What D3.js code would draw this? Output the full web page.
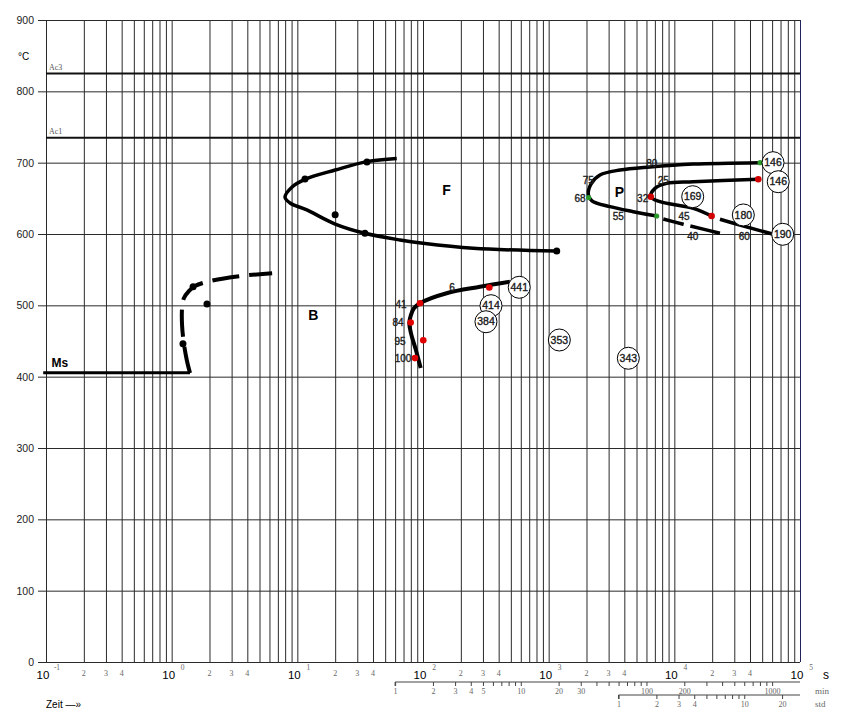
<!DOCTYPE html>
<html>
<head>
<meta charset="utf-8">
<script src="https://cdn.jsdelivr.net/npm/d3@7"></script>
<style>
body { margin: 0; background: #fff; }
svg { display: block; font-family: Arial, "Liberation Sans", sans-serif; }
.grid line { stroke: #2a2a2a; stroke-width: 1; }
.grid path { display: none; }
.sub text { font-family: "Liberation Serif", "DejaVu Serif", serif; font-size: 8px; fill: #666; }
.sub path, .sub line { stroke: #444; }
.lbl { stroke: #222; stroke-width: 0.35px; }
</style>
</head>
<body>
<svg id="chart" width="843" height="724"></svg>
<script>
// ---- data (time in s, temperature in °C) ----
var tempTicks = [0, 100, 200, 300, 400, 500, 600, 700, 800, 900];
var decades = [-1, 0, 1, 2, 3, 4, 5];
var minorLabels = [2, 3, 4];
var criticalTemps = [["Ac3", 825], ["Ac1", 735]];
var minuteTicks = [1,2,3,4,5,6,7,8,9,10,20,30,40,50,60,70,80,90,100,200,300,400,500,600,700,800,900,1000];
var minuteLabels = [1, 2, 3, 4, 5, 10, 20, 30, 100, 200, 1000];
var hourTicks = [1,2,3,4,5,6,7,8,9,10,20];
var hourLabels = [1, 2, 3, 4, 10, 20];

var msLine = [[0.095, 405.5], [1.40, 405.5]];
var bainiteStart = [[1.40,405],[1.32,423],[1.25,447],[1.21,472],[1.21,496],[1.25,510],[1.37,520],[1.53,527],[2.02,534],[3.5,541],[6.3,545]];
var bainiteStartDots = [[1.23,446],[1.48,526],[1.91,502]];

var ferrite = [[61.8,706],[35.8,701.5],[20,689.7],[11.5,676.7],[9.08,666],[7.98,651.5],[8.75,643.5],[11.9,633.7],[20,614],[34.5,601],[65.6,591.6],[100,587],[251,580],[1159,576]];
var ferriteDots = [[11.5,677],[35.8,701],[20,627],[34.5,601],[1159,576]];

var bainite = [[95.9,412],[87.9,437],[80.2,461],[77.8,475],[80.2,486.5],[84.7,496],[94.6,503],[154,517],[284,526],[492,533]];
var bainiteRedDots = [[94.6,503],[79.8,476],[100.5,451],[86.3,426],[337,525]];

var pearliteOuter = [[48100,700],[14150,698],[6400,694],[3700,689.7],[2560,682.7],[2170,670],[2070,654.7],[2210,646.5],[3080,638.3],[4710,631.3],[7240,625.2]];
var pearliteOuterDash = [[8170,621],[11780,613.6],[13340,611.3],[23070,601]];
var pearliteInner = [[46560,676.7],[14160,673.3],[8690,671],[7020,664],[6490,652.3],[7690,645.3],[14160,636],[19800,625.2]];
var pearliteInnerTail = [[23070,620.6],[33270,612.6],[61200,599.6]];
var greenDots = [[48100,700],[2080,651],[7240,625.2]];
var pearliteRedDots = [[46560,676.7],[6490,652.3],[19800,625.2]];

var hardness = [
  [583, 525.3, "441"], [347.6, 499.5, "414"], [317, 477, "384"], [1216, 451.4, "353"], [4305, 425.8, "343"],
  [61000, 700, "146"], [67100, 673.3, "146"], [14000, 652.3, "169"], [35400, 626.7, "180"], [72800, 599.6, "190"]
];
var pointLabels = [
  [66.8, 500.5, "41"], [63.2, 476.6, "84"], [65.6, 450, "95"], [69.3, 424.8, "100"], [170, 525.7, "6"],
  [6607, 699, "80"], [2065, 674.7, "75"], [1774, 650, "68"], [8166, 674.7, "25"], [5598, 650, "32"],
  [3581, 625.2, "55"], [11940, 625.2, "45"], [14000, 597, "40"], [36060, 597, "60"]
];
var regionLabels = [[154, 661.7, "F"], [13.4, 486.5, "B"], [3650, 659.3, "P"], [0.129, 420, "Ms"]];

// ---- layout ----
var plotLeft = 46, plotRight = 800, plotTop = 20, plotBottom = 662;
var svg = d3.select("#chart");

var x = d3.scaleLog().domain([0.1, 1e5]).range([plotLeft, plotRight]);
var y = d3.scaleLinear().domain([0, 900]).range([plotBottom, plotTop]);

// vertical grid: every 1..9 x 10^k
var vTicks = [];
decades.slice(0, -1).forEach(function(d) {
  for (var m = 1; m < 10; m++) vTicks.push(m * Math.pow(10, d));
});
vTicks.push(1e5);

var xGrid = svg.append("g")
  .attr("class", "grid")
  .attr("transform", "translate(0," + plotTop + ")")
  .call(d3.axisBottom(x).tickValues(vTicks).tickSize(plotBottom - plotTop).tickFormat(""));
xGrid.selectAll(".tick line").filter(function(d) { return d === 1e5; }).style("stroke", "#22225a");

// horizontal grid + temperature labels
var yAxis = svg.append("g")
  .attr("class", "grid")
  .attr("transform", "translate(" + plotRight + ",0)")
  .call(d3.axisLeft(y).tickValues(tempTicks).tickSize(plotRight - 38).tickPadding(4));
yAxis.selectAll("text").style("font-size", "10.5px").style("fill", "#222");

svg.append("text").attr("x", 18).attr("y", 60).style("font-size", "10px").text("°C");

// Ac lines
criticalTemps.forEach(function(c) {
  svg.append("line")
    .attr("x1", plotLeft).attr("x2", plotRight)
    .attr("y1", y(c[1])).attr("y2", y(c[1]))
    .attr("stroke", "#111").attr("stroke-width", 2);
  svg.append("text")
    .attr("x", plotLeft + 3).attr("y", y(c[1]) - 4)
    .style("font-family", "Liberation Serif, serif").style("font-size", "8px").style("fill", "#555")
    .text(c[0]);
});

// decade labels 10^k
decades.forEach(function(d) {
  var px = x(Math.pow(10, d));
  svg.append("text").attr("x", px - 3).attr("y", 679)
    .attr("text-anchor", "middle").style("font-size", "11.5px").text("10");
  svg.append("text").attr("x", px + 11).attr("y", 670)
    .attr("text-anchor", "middle")
    .style("font-family", "Liberation Serif, serif").style("font-size", "7.5px").style("fill", "#666")
    .text(d);
  if (d < 5) {
    minorLabels.forEach(function(m) {
      svg.append("text").attr("x", x(m * Math.pow(10, d))).attr("y", 676)
        .attr("text-anchor", "middle")
        .style("font-family", "Liberation Serif, serif").style("font-size", "8px").style("fill", "#666")
        .text(m);
    });
  }
});
svg.append("text").attr("x", 823).attr("y", 679).style("font-size", "12px").text("s");

// minutes axis
var xm = d3.scaleLog().domain([1, 1e5 / 60]).range([x(60), x(1e5)]);
var minAxis = svg.append("g").attr("class", "sub")
  .attr("transform", "translate(0,682)")
  .call(d3.axisBottom(xm).tickValues(minuteTicks).tickSize(4).tickPadding(2)
    .tickFormat(function(v) { return minuteLabels.indexOf(v) >= 0 ? v : ""; }));
minAxis.select(".domain").attr("d", "M" + xm.range()[0] + ",4V0H" + xm.range()[1]);
svg.append("text").attr("x", 815).attr("y", 694)
  .style("font-family", "Liberation Serif, serif").style("font-size", "9px").style("fill", "#666").text("min");

// hours axis
var xh = d3.scaleLog().domain([1, 1e5 / 3600]).range([x(3600), x(1e5)]);
var hAxis = svg.append("g").attr("class", "sub")
  .attr("transform", "translate(0,695)")
  .call(d3.axisBottom(xh).tickValues(hourTicks).tickSize(4).tickPadding(2)
    .tickFormat(function(v) { return hourLabels.indexOf(v) >= 0 ? v : ""; }));
hAxis.select(".domain").attr("d", "M" + xh.range()[0] + ",4V0H" + xh.range()[1]);
svg.append("text").attr("x", 815).attr("y", 707)
  .style("font-family", "Liberation Serif, serif").style("font-size", "9px").style("fill", "#666").text("std");

svg.append("text").attr("x", 46).attr("y", 708).style("font-size", "10px").text("Zeit  —»");

// ---- curves ----
var line = d3.line()
  .x(function(d) { return x(d[0]); })
  .y(function(d) { return y(d[1]); })
  .curve(d3.curveCatmullRom.alpha(0.5));

function curve(data, width, dash) {
  var p = svg.append("path").datum(data)
    .attr("d", line)
    .attr("fill", "none").attr("stroke", "#000")
    .attr("stroke-width", width);
  if (dash) p.attr("stroke-dasharray", dash);
  return p;
}

curve(msLine, 3);
curve(bainiteStart, 4, "27,10");
curve(ferrite, 3.5);
curve(bainite, 4);
curve(pearliteOuter, 3.5);
curve(pearliteOuterDash, 3.5, "21,7,40");
curve(pearliteInner, 3.5);
curve(pearliteInnerTail, 3.5);

function dots(data, r, color) {
  svg.append("g").selectAll("circle").data(data).enter().append("circle")
    .attr("cx", function(d) { return x(d[0]); })
    .attr("cy", function(d) { return y(d[1]); })
    .attr("r", r).attr("fill", color);
}
dots(bainiteStartDots, 3.5, "#000");
dots(ferriteDots, 3.5, "#000");
dots(bainiteRedDots, 3.3, "#e00000");
dots(pearliteRedDots, 3.3, "#d00000");
dots(greenDots, 2.6, "#2a9a2a");

// point labels
svg.append("g").selectAll("text").data(pointLabels).enter().append("text")
  .attr("class", "lbl")
  .attr("x", function(d) { return x(d[0]); })
  .attr("y", function(d) { return y(d[1]); })
  .attr("dy", "0.35em").attr("text-anchor", "middle")
  .style("font-size", "10px").style("fill", "#222")
  .text(function(d) { return d[2]; });

// region labels
svg.append("g").selectAll("text").data(regionLabels).enter().append("text")
  .attr("x", function(d) { return x(d[0]); })
  .attr("y", function(d) { return y(d[1]); })
  .attr("dy", "0.35em").attr("text-anchor", "middle")
  .style("font-size", function(d) { return d[2] == "Ms" ? "12px" : "14px"; })
  .style("font-weight", "bold")
  .text(function(d) { return d[2]; });

// hardness circles
var hg = svg.append("g").selectAll("g").data(hardness).enter().append("g")
  .attr("transform", function(d) { return "translate(" + x(d[0]) + "," + y(d[1]) + ")"; });
hg.append("circle").attr("r", 11).attr("fill", "#fff").attr("stroke", "#000").attr("stroke-width", 1);
hg.append("text").attr("class", "lbl").attr("dy", "0.35em").attr("text-anchor", "middle")
  .style("font-size", "10.5px").style("fill", "#111")
  .text(function(d) { return d[2]; });
</script>
</body>
</html>
